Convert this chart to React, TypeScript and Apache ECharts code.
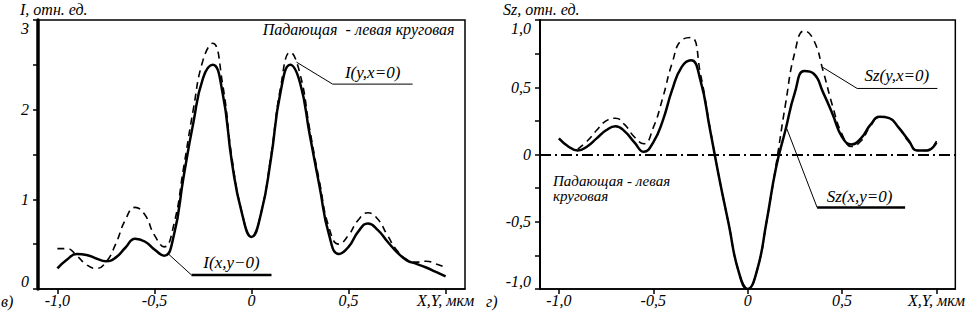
import React, { useEffect, useRef } from "react";
import * as echarts from "echarts";

// ---- data ----
const xs = [
  -1.0, -0.95, -0.9, -0.85, -0.8, -0.75, -0.7, -0.65, -0.6, -0.55, -0.5, -0.45, -0.4, -0.35, -0.3, -0.25, -0.2,
  -0.15, -0.1, -0.05, 0, 0.05, 0.1, 0.15, 0.2, 0.25, 0.3, 0.35, 0.4, 0.45, 0.5, 0.55, 0.6, 0.65, 0.7, 0.75, 0.8,
  0.85, 0.9, 0.95, 1.0,
];

// I(x,y=0) – solid
const intensityX = [
  0.23, 0.33, 0.39, 0.38, 0.34, 0.31, 0.35, 0.46, 0.56, 0.53, 0.44, 0.37, 0.6, 1.25, 1.85, 2.35, 2.5, 2.2, 1.4,
  0.85, 0.58, 0.85, 1.45, 2.2, 2.5, 2.3, 1.72, 1.15, 0.6, 0.39, 0.47, 0.64, 0.73, 0.66, 0.53, 0.41, 0.32, 0.28,
  0.24, 0.19, 0.14,
];
// I(y,x=0) – dashed
const intensityY = [
  0.45, 0.45, 0.37, 0.27, 0.23, 0.3, 0.5, 0.77, 0.91, 0.83, 0.6, 0.47, 0.72, 1.35, 2.0, 2.55, 2.74, 2.3, 1.45,
  0.86, 0.58, 0.86, 1.48, 2.25, 2.64, 2.4, 1.78, 1.2, 0.68, 0.5, 0.6, 0.77, 0.85, 0.78, 0.6, 0.43, 0.33, 0.3,
  0.31, 0.28, 0.24,
];
// Sz(x,y=0) – solid
const szX = [
  0.12, 0.06, 0.03, 0.06, 0.12, 0.18, 0.21, 0.17, 0.09, 0.02, 0.09, 0.25, 0.48, 0.65, 0.7, 0.55, 0.19, -0.18,
  -0.52, -0.86, -1.0, -0.86, -0.5, -0.1, 0.18, 0.46, 0.62, 0.6, 0.46, 0.3, 0.13, 0.075, 0.12, 0.22, 0.28, 0.27,
  0.2, 0.11, 0.03, 0.03, 0.09,
];
// Sz(y,x=0) – dashed
const szY = [
  null, null, 0.04, 0.1, 0.18, 0.25, 0.27, 0.22, 0.13, 0.08, 0.2, 0.42, 0.68, 0.85, 0.87, 0.6, 0.2, -0.18, -0.52,
  -0.86, -1.0, -0.86, -0.5, -0.08, 0.37, 0.76, 0.92, 0.85, 0.62, 0.36, 0.15, 0.06, 0.1, 0.21, 0.28, 0.27, 0.2,
  0.1, 0.03, 0.03, 0.1,
];

const xTickValues = [-1, -0.5, 0, 0.5, 1];
const xTickLabels = ["-1,0", "-0,5", "0", "0,5", "X,Y, мкм"];
const iTickValues = [0, 0.5, 1, 1.5, 2, 2.5, 3];
const iLabelValues = [0, 1, 2, 3];
const iLabels = ["0", "1", "2", "3"];
const szTickValues = [-1, -0.75, -0.5, -0.25, 0, 0.25, 0.5, 0.75, 1];
const szLabelValues = [-1, -0.5, 0, 0.5, 1];
const szLabels = ["-1,0", "-0,5", "0", "0,5", "1,0"];

// annotation anchors in data coordinates
const leaderIY = [[0.232, 2.53], [0.418, 2.285], [0.83, 2.285]];
const textIY = [0.624, 2.41];
const leaderIX = [[-0.433, 0.4], [-0.309, 0.156]];
const underIX = [[-0.309, 0.156], [0.103, 0.156]];
const textIX = [-0.103, 0.29];
const noteLeft = [1.046, 2.89];
const leaderSzY = [[0.399, 0.647], [0.58, 0.491], [1.005, 0.491]];
const textSzY = [0.79, 0.587];
const leaderSzX = [[0.207, 0.193], [0.368, -0.394]];
const underSzX = [[0.368, -0.394], [0.834, -0.394]];
const textSzX = [0.593, -0.312];
const noteRight1 = [-1.031, -0.2];
const noteRight2 = [-1.031, -0.312];

const FONT = "Liberation Serif";

const pairs = (ys: (number | null)[]) => xs.map((x, i) => [x, ys[i]]);

export default function App() {
  const ref = useRef<HTMLDivElement>(null);

  useEffect(() => {
    if (!ref.current) return;
    const chart = echarts.init(ref.current, undefined, { renderer: "svg" });

    const labelStyle = {
      fontFamily: FONT,
      fontStyle: "italic" as const,
      fontSize: 16,
      color: "#000",
    };

    const xAxisCfg = (gridIndex: number) => ({
      type: "value" as const,
      gridIndex,
      min: -1.1,
      max: 1.1,
      splitLine: { show: false },
      axisLine: { show: true, onZero: false, lineStyle: { color: "#000", width: 1.5 } },
      axisTick: {
        show: true,
        customValues: xTickValues,
        length: 5,
        lineStyle: { color: "#000", width: 1.5 },
      },
      axisLabel: {
        ...labelStyle,
        customValues: xTickValues,
        margin: 3,
        formatter: (v: number) => {
          const i = xTickValues.findIndex((t) => Math.abs(t - v) < 1e-6);
          return i >= 0 ? xTickLabels[i] : "";
        },
      },
    });

    chart.setOption({
      animation: false,
      backgroundColor: "#fff",
      textStyle: { fontFamily: FONT, fontStyle: "italic" },
      grid: [
        { left: 38, top: 20, width: 427, height: 269, show: true, borderColor: "#000", borderWidth: 1.5 },
        { left: 540, top: 20, width: 425, height: 269, show: true, borderColor: "#000", borderWidth: 1.5 },
      ],
      xAxis: [xAxisCfg(0), xAxisCfg(1)],
      yAxis: [
        {
          type: "value",
          gridIndex: 0,
          min: 0,
          max: 3,
          splitLine: { show: false },
          axisLine: { show: true, onZero: false, lineStyle: { color: "#000", width: 3.5 } },
          axisTick: { show: true, customValues: iTickValues, length: 5, lineStyle: { color: "#000", width: 1.5 } },
          axisLabel: {
            ...labelStyle,
            customValues: iLabelValues,
            margin: 9,
            verticalAlignMaxLabel: "top",
            verticalAlignMinLabel: "bottom",
            formatter: (v: number) => {
              const i = iLabelValues.findIndex((t) => Math.abs(t - v) < 1e-6);
              return i >= 0 ? iLabels[i] : "";
            },
          },
        },
        {
          type: "value",
          gridIndex: 1,
          min: -1,
          max: 1,
          splitLine: { show: false },
          axisLine: { show: true, onZero: false, lineStyle: { color: "#000", width: 2 } },
          axisTick: { show: true, customValues: szTickValues, length: 5, lineStyle: { color: "#000", width: 1.5 } },
          axisLabel: {
            ...labelStyle,
            customValues: szLabelValues,
            margin: 9,
            verticalAlignMaxLabel: "top",
            verticalAlignMinLabel: "bottom",
            formatter: (v: number) => {
              const i = szLabelValues.findIndex((t) => Math.abs(t - v) < 1e-6);
              return i >= 0 ? szLabels[i] : "";
            },
          },
        },
      ],
      series: [
        {
          name: "I(y,x=0)",
          type: "line",
          xAxisIndex: 0,
          yAxisIndex: 0,
          data: pairs(intensityY),
          smooth: 0.5,
          showSymbol: false,
          lineStyle: { color: "#000", width: 1.6, type: [7, 5] },
        },
        {
          name: "I(x,y=0)",
          type: "line",
          xAxisIndex: 0,
          yAxisIndex: 0,
          data: pairs(intensityX),
          smooth: 0.5,
          showSymbol: false,
          lineStyle: { color: "#000", width: 2.5 },
        },
        {
          name: "Sz(y,x=0)",
          type: "line",
          xAxisIndex: 1,
          yAxisIndex: 1,
          data: pairs(szY),
          smooth: 0.5,
          showSymbol: false,
          lineStyle: { color: "#000", width: 1.6, type: [7, 5] },
        },
        {
          name: "Sz(x,y=0)",
          type: "line",
          xAxisIndex: 1,
          yAxisIndex: 1,
          data: pairs(szX),
          smooth: 0.5,
          showSymbol: false,
          lineStyle: { color: "#000", width: 2.5 },
          markLine: {
            silent: true,
            symbol: "none",
            label: { show: false },
            lineStyle: { color: "#000", width: 2, type: [11, 4, 2, 4] },
            data: [{ yAxis: 0 }],
          },
        },
      ],
    });

    const p = (g: number, pt: number[]) => chart.convertToPixel({ gridIndex: g }, pt) as number[];
    const txt = (t: string, pos: number[], align: string, vAlign: string, size = 16) => ({
      type: "text",
      x: pos[0],
      y: pos[1],
      style: {
        text: t,
        fill: "#000",
        fontFamily: FONT,
        fontStyle: "italic",
        fontSize: size,
        align,
        verticalAlign: vAlign,
      },
    });
    const pl = (pts: number[][], w: number) => ({
      type: "polyline",
      shape: { points: pts },
      style: { stroke: "#000", lineWidth: w, fill: "none" },
    });

    chart.setOption({
      graphic: [
        txt("I, отн. ед.", [20, 9], "left", "middle"),
        txt("Sz, отн. ед.", [503, 9], "left", "middle"),
        txt("в)", [1, 301], "left", "middle"),
        txt("г)", [486, 301], "left", "middle"),
        txt("Падающая  - левая круговая", p(0, noteLeft), "right", "middle"),
        pl(leaderIY.map((q) => p(0, q)), 1),
        txt("I(y,x=0)", p(0, textIY), "center", "middle", 17),
        pl(leaderIX.map((q) => p(0, q)), 1),
        pl(underIX.map((q) => p(0, q)), 2.5),
        txt("I(x,y−0)", p(0, textIX), "center", "middle", 17),
        pl(leaderSzY.map((q) => p(1, q)), 1),
        txt("Sz(y,x=0)", p(1, textSzY), "center", "middle", 17),
        pl(leaderSzX.map((q) => p(1, q)), 1),
        pl(underSzX.map((q) => p(1, q)), 2.5),
        txt("Sz(x,y=0)", p(1, textSzX), "center", "middle", 17),
        txt("Падающая - левая", p(1, noteRight1), "left", "middle", 15),
        txt("круговая", p(1, noteRight2), "left", "middle", 15),
      ],
    });

    return () => chart.dispose();
  }, []);

  return (
    <div
      ref={ref}
      style={{ position: "fixed", left: 0, top: 0, width: 968, height: 317, background: "#fff" }}
    />
  );
}
